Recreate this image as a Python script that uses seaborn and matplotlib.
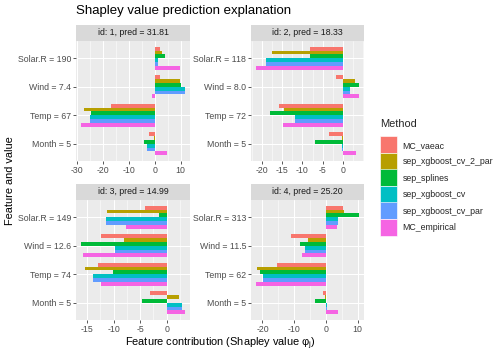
import numpy as np
import pandas as pd
import matplotlib
matplotlib.use("Agg")
import matplotlib.pyplot as plt
from matplotlib.patches import Patch, Rectangle
from matplotlib.legend_handler import HandlerBase
from matplotlib.ticker import FixedLocator, AutoMinorLocator
import seaborn as sns

# ---------------- data ----------------
ids = [1, 2, 3, 4]
preds = ["31.81", "18.33", "14.99", "25.20"]
features = ["Solar.R", "Wind", "Temp", "Month"]
feature_values = [
    ["190", "7.4", "67", "5"],
    ["118", "8.0", "72", "5"],
    ["149", "12.6", "74", "5"],
    ["313", "11.5", "62", "5"],
]
methods = ["MC_vaeac", "sep_xgboost_cv_2_par", "sep_splines",
           "sep_xgboost_cv", "sep_xgboost_cv_par", "MC_empirical"]
colors = ["#F8766D", "#B79F00", "#00BA38", "#00BFC4", "#619CFF", "#F564E3"]

# rows = features (Solar.R, Wind, Temp, Month), cols = methods
phi_id1 = [[1.9, 2.7, 3.9, 1.2, 1.2, 9.7],
           [1.9, 9.7, 10.1, 11.6, 11.6, -1.2],
           [-16.7, -27.2, -24.5, -24.8, -24.8, -28.3],
           [-2.3, -0.4, -4.3, -3.1, -3.1, 4.7]]
phi_id2 = [[-8.1, -17.5, -8.1, -18.9, -18.9, -21.4],
           [-1.7, 2.95, 3.9, 1.7, 1.7, 3.9],
           [-15.7, -14.5, -17.95, -11.8, -11.8, -14.75],
           [-3.4, -0.25, -6.9, -0.15, -0.15, 3.2]]
phi_id3 = [[-4.0, -11.2, -1.5, -11.5, -11.5, -7.75],
           [-12.3, -8.1, -16.1, -9.8, -9.8, -15.7],
           [-12.9, -15.3, -10.2, -13.8, -13.8, -12.3],
           [-3.2, 2.3, -4.7, 2.8, 2.8, 3.4]]
phi_id4 = [[5.4, 5.7, 10.4, 3.8, 3.8, 3.5],
           [-11.0, -5.7, -8.2, -6.6, -6.6, -7.6],
           [-15.4, -21.7, -20.7, -19.8, -19.8, -22.0],
           [-0.9, -0.3, -3.4, 0.2, 0.2, 3.8]]
phis = [phi_id1, phi_id2, phi_id3, phi_id4]
x_ticks = [[-30, -20, -10, 0, 10],
           [-20, -15, -10, -5, 0],
           [-15, -10, -5, 0],
           [-20, -10, 0, 10]]

# ---------------- style ----------------
sns.set_style("darkgrid", {"axes.facecolor": "#EBEBEB", "grid.color": "white"})
plt.rcParams["font.family"] = ["Liberation Sans", "DejaVu Sans"]
plt.rcParams["mathtext.fontset"] = "custom"
plt.rcParams["mathtext.rm"] = "Liberation Sans"
plt.rcParams["mathtext.it"] = "Liberation Sans:italic"

W, H = 504, 360
fig = plt.figure(figsize=(W / 72, H / 72), dpi=72)
fig.patch.set_facecolor("white")

def box(l, t, r, b):
    return [l / W, 1 - b / H, (r - l) / W, (b - t) / H]

panels = [(76, 41, 190, 161), (251, 41, 364, 161),
          (76, 200, 190, 320), (251, 200, 364, 320)]
strip_h = 16.5

for k in range(4):
    l, t, r, b = panels[k]
    ax = fig.add_axes(box(l, t, r, b))
    labels = [f"{f} = {v}" for f, v in zip(features, feature_values[k])]
    rows = []
    for i, lab in enumerate(labels):
        for j, m in enumerate(methods):
            rows.append({"label": lab, "method": m, "phi": phis[k][i][j]})
    df = pd.DataFrame(rows)
    sns.barplot(data=df, x="phi", y="label", hue="method", hue_order=methods,
                order=labels, palette=colors, orient="h", width=0.8,
                saturation=1, linewidth=0, ax=ax, legend=False, errorbar=None)
    for p in ax.patches:
        p.set_antialiased(False)
        p.set_zorder(3)
    vals = df["phi"].to_numpy()
    lo, hi = min(vals.min(), 0), max(vals.max(), 0)
    pad = 0.05 * (hi - lo)
    ax.set_xlim(lo - pad, hi + pad)
    ax.set_ylim(3.6, -0.6)
    ax.xaxis.set_major_locator(FixedLocator(x_ticks[k]))
    ax.xaxis.set_minor_locator(AutoMinorLocator(2))
    ax.set_axisbelow(True)
    ax.grid(True, which="major", color="white", linewidth=1.0, zorder=0)
    ax.grid(True, which="minor", axis="x", color="white", linewidth=0.5, zorder=0)
    ax.set_xlabel("")
    ax.set_ylabel("")
    for s in ax.spines.values():
        s.set_visible(False)
    ax.tick_params(axis="both", which="major", length=2.75, width=0.8,
                   color="#333333", labelcolor="#4D4D4D", labelsize=8.8, pad=2.2,
                   bottom=True, left=True)
    ax.tick_params(axis="both", which="minor", length=0)
    ax.set_xticklabels([str(v) for v in x_ticks[k]])

    # strip
    sax = fig.add_axes(box(l, t - strip_h, r, t))
    sax.set_facecolor("#D9D9D9")
    sax.set_xticks([]); sax.set_yticks([])
    for s in sax.spines.values():
        s.set_visible(False)
    sax.grid(False)
    sax.text(0.5, 0.5, f"id: {ids[k]}, pred = {preds[k]}", ha="center", va="center",
             fontsize=8.8, color="#1A1A1A", transform=sax.transAxes)

fig.text(76 / W, 1 - 11 / H, "Shapley value prediction explanation",
         ha="left", va="center", fontsize=13.2, color="black")
fig.text(10 / W, 1 - 181 / H, "Feature and value", rotation=90,
         ha="center", va="center", fontsize=11, color="black")
fig.text(220 / W, 1 - 344 / H, r"Feature contribution (Shapley value φ$_\mathrm{j}$)",
         ha="center", va="center", fontsize=11, color="black")


class KeyHandler(HandlerBase):
    size = 17.0

    def create_artists(self, legend, orig_handle, xdescent, ydescent,
                       width, height, fontsize, trans):
        s = self.size
        cy = height / 2 - ydescent
        r = Rectangle((-xdescent, cy - s / 2), s, s,
                      facecolor=orig_handle.get_facecolor(),
                      edgecolor="white", linewidth=0.6, transform=trans)
        return [r]


handles = [Patch(facecolor=c) for c in colors]
leg = fig.legend(handles, methods, title="Method", loc="upper left",
                 bbox_to_anchor=(380 / W, 1 - 119 / H), frameon=False,
                 fontsize=8.8, title_fontsize=11, handlelength=1.95,
                 handleheight=0.7, labelspacing=0.85, handletextpad=0.6,
                 borderaxespad=0, borderpad=0,
                 handler_map={Patch: KeyHandler()})
leg._legend_box.align = "left"
leg._legend_box.sep = 12

fig.savefig("out.png", dpi=72)
